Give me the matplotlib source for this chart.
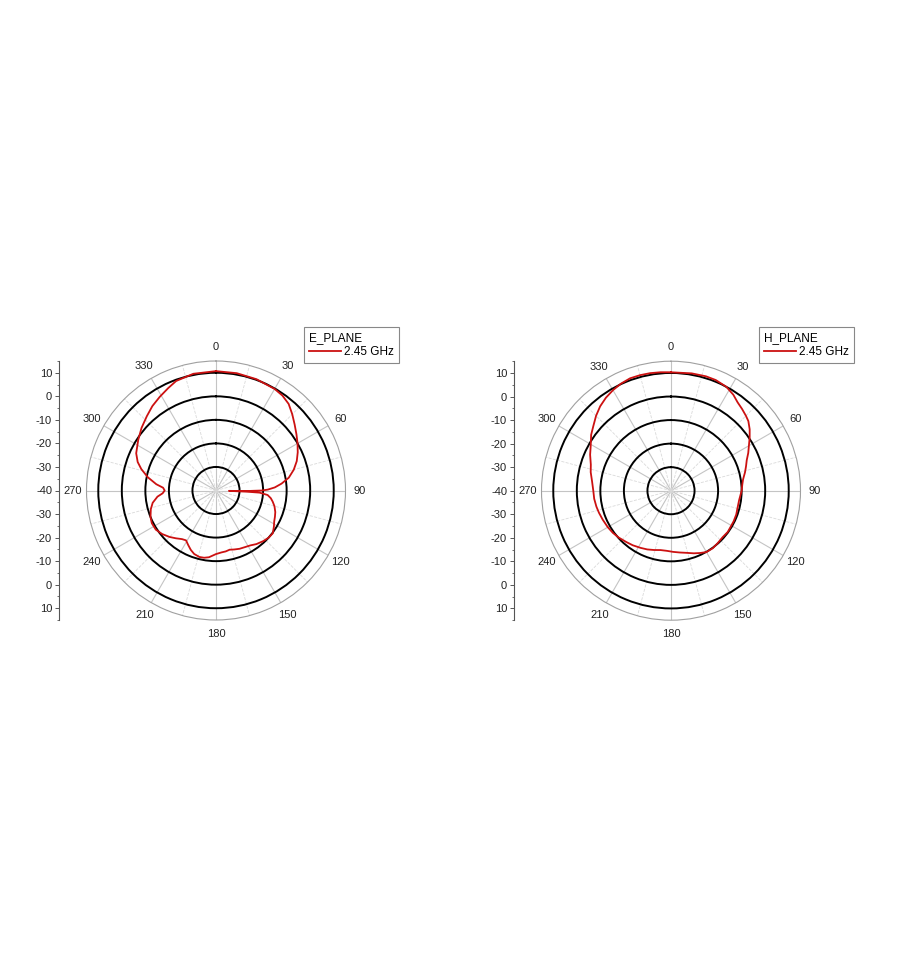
import numpy as np
import matplotlib
matplotlib.use("Agg")
import matplotlib.pyplot as plt

plt.rcParams['font.family'] = ['Liberation Sans', 'DejaVu Sans']

# ---- data (degrees, dB) ----
E_ANGLES = [0, 10, 20, 30, 35, 40, 45, 50, 55, 60, 65, 70, 75, 80, 84, 87, 89, 90,
            91, 91.6, 92.2, 92.8, 95, 98, 101, 105, 110, 114, 118, 122, 127, 132,
            137, 143, 148, 153, 158, 163, 167, 171, 175, 180, 186, 190, 194, 199,
            203, 207, 211, 215, 220, 225, 231, 237, 243, 248, 254, 259, 264, 267,
            270, 273, 276, 281, 286, 290, 295, 303, 310, 317, 323, 329, 335, 340,
            349, 360]
E_DB = [10.7, 10.6, 10.3, 9.8, 9.2, 8.0, 5.8, 3.6, 1.7, 0.0, -1.7, -3.5, -5.8, -8.6,
        -12.0, -15.0, -18.0, -20.5, -27.0, -34.5, -27.0, -21.5, -18.0, -16.5, -15.5,
        -14.3, -13.2, -12.6, -12.0, -11.0, -9.8, -10.0, -10.6, -11.5, -12.5, -13.0,
        -13.3, -13.8, -14.2, -13.8, -13.6, -13.0, -11.5, -11.0, -10.9, -11.5, -12.6,
        -14.0, -15.3, -14.8, -13.5, -12.1, -10.6, -9.5, -9.4, -10.0, -11.2, -12.6,
        -15.0, -17.3, -18.2, -17.5, -14.5, -10.5, -7.0, -4.6, -2.6, -0.6, 1.3, 3.1,
        4.9, 6.4, 8.0, 9.5, 10.5, 10.7]

H_ANGLES = [0, 10, 17, 22, 28, 33, 37, 41, 45, 48, 52, 56, 60, 64, 68, 72, 76, 81,
            85, 90, 98, 105, 110, 116, 121, 126, 132, 138, 144, 150, 155, 160, 166,
            172, 178, 184, 190, 196, 202, 208, 215, 221, 228, 234, 240, 247, 253,
            258, 264, 270, 277, 283, 288, 294, 299, 305, 310, 315, 320, 325, 330,
            335, 340, 345, 350, 355, 360]
H_DB = [10.3, 10.6, 10.8, 10.7, 10.0, 8.6, 7.0, 6.0, 5.0, 4.2, 2.4, 0.3, -1.8, -3.5,
        -5.3, -6.5, -7.6, -9.0, -9.6, -10.0, -10.8, -10.8, -10.5, -10.4, -10.4,
        -10.2, -10.5, -10.2, -9.8, -9.9, -10.8, -11.7, -12.8, -13.5, -14.0, -14.4,
        -14.4, -13.8, -13.1, -12.5, -11.7, -11.1, -10.2, -9.5, -9.0, -8.5, -8.0,
        -7.6, -7.2, -7.0, -6.2, -5.0, -4.2, -2.4, -1.0, 1.4, 3.0, 5.0, 6.8, 8.2,
        9.3, 10.2, 10.8, 10.8, 10.7, 10.5, 10.3]

THETA_TICKS = [0, 30, 60, 90, 120, 150, 180, 210, 240, 270, 300, 330]
RINGS = [-30, -20, -10, 0, 10]
R_MIN, R_MAX = -40, 15
LEFT_TICKS = [-50, -40, -30, -20, -10, 0, 10, 20, 30, 40, 50]
LEGEND_TITLES = ["E_PLANE", "H_PLANE"]
SERIES_LABEL = "2.45 GHz"

W, H = 900, 959
fig = plt.figure(figsize=(W / 100, H / 100), dpi=100)
fig.patch.set_facecolor('white')

R_PX = 129.5
panels = [
    dict(cx=216, cy=490.5, axis_x=59, leg=(304, 327), ang=E_ANGLES, db=E_DB, title=LEGEND_TITLES[0]),
    dict(cx=671, cy=490.7, axis_x=514, leg=(759, 327), ang=H_ANGLES, db=H_DB, title=LEGEND_TITLES[1]),
]

for p in panels:
    ax = fig.add_axes([(p['cx'] - R_PX) / W, (H - p['cy'] - R_PX) / H, 2 * R_PX / W, 2 * R_PX / H],
                      projection='polar')
    ax.set_theta_zero_location('N')
    ax.set_theta_direction(-1)
    ax.set_ylim(R_MIN, R_MAX)
    ax.set_axisbelow(True)
    ax.set_yticks(RINGS)
    ax.set_yticklabels([])
    ax.yaxis.grid(True, color='black', lw=1.4)
    ax.set_xticks(np.deg2rad(THETA_TICKS))
    ax.set_xticklabels([str(t) for t in THETA_TICKS], fontsize=8, color='#222222')
    ax.set_xticks(np.deg2rad(np.arange(15, 360, 30)), minor=True)
    ax.xaxis.grid(True, which='major', color='#c4c4c4', lw=0.8)
    ax.xaxis.grid(True, which='minor', color='#dadada', lw=0.6, ls='--')
    ax.tick_params(axis='x', which='major', pad=3, length=0)
    ax.tick_params(axis='x', which='minor', length=0)
    ax.spines['polar'].set_color('#a0a0a0')
    ax.spines['polar'].set_linewidth(0.8)
    th = np.deg2rad(p['ang'])
    line, = ax.plot(th, p['db'], color='#cc1111', lw=1.3, label=SERIES_LABEL)
    leg = ax.legend(handles=[line], title=p['title'], loc='upper left',
                    bbox_to_anchor=(p['leg'][0] / W, 1 - p['leg'][1] / H),
                    bbox_transform=fig.transFigure, borderaxespad=0,
                    fontsize=8.5, title_fontsize=8.5, alignment='left',
                    fancybox=False, framealpha=1, edgecolor='#888888',
                    handlelength=2.7, handletextpad=0.3, borderpad=0.4,
                    labelspacing=0.2)
    leg.get_frame().set_linewidth(0.8)

    axl = fig.add_axes([p['axis_x'] / W, (H - p['cy'] - R_PX) / H, 0.001, 2 * R_PX / H])
    axl.set_ylim(-55, 55)
    axl.set_xticks([])
    for s in ['top', 'right', 'bottom']:
        axl.spines[s].set_visible(False)
    axl.spines['left'].set_color('#555555')
    axl.spines['left'].set_linewidth(0.8)
    axl.set_yticks(LEFT_TICKS)
    axl.set_yticklabels([str(abs(v) + R_MIN) for v in LEFT_TICKS], fontsize=8, color='#222222')
    axl.set_yticks(np.arange(-55, 56, 5), minor=True)
    axl.tick_params(axis='y', which='major', length=3, width=0.7, color='#555555', pad=2)
    axl.tick_params(axis='y', which='minor', length=1.5, width=0.6, color='#555555')
    axl.patch.set_alpha(0)

fig.savefig('out.png', dpi=100, facecolor='white')
